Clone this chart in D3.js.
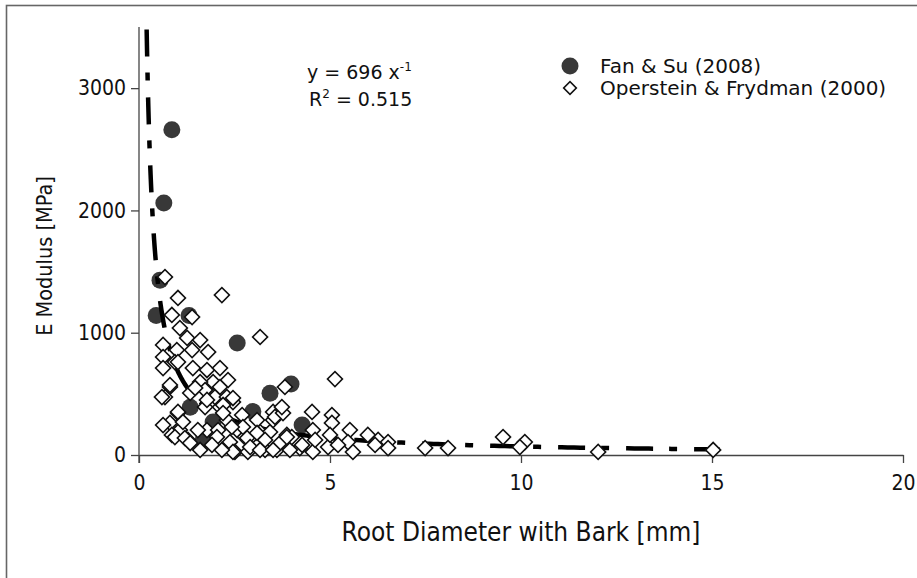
<!DOCTYPE html>
<html>
<head>
<meta charset="utf-8">
<script src="https://cdn.jsdelivr.net/npm/d3@7"></script>
<style>
  body { margin: 0; background: #fff; }
  svg { display: block; }
  .tick-label { font-family: "DejaVu Sans Condensed", "Liberation Sans Narrow", sans-serif; fill: #111; }
  .note { font-family: "DejaVu Sans", Verdana, sans-serif; fill: #111; }
</style>
</head>
<body>
<div id="chart"></div>
<script>

// Fan & Su (2008): diameter [mm], E modulus [MPa]
var fanSu = [
    [0.86, 2660], [0.65, 2060], [0.55, 1430], [0.45, 1140], [1.31, 1140],
    [2.57, 915], [3.43, 505], [3.98, 580], [2.98, 355], [4.27, 245],
    [1.94, 270], [1.68, 125], [1.34, 390]
];

// Operstein & Frydman (2000)
var operstein = [
    [0.68, 1455], [1.02, 1284], [2.17, 1308], [0.86, 1145], [1.39, 1128],
    [1.07, 1038], [3.17, 965], [0.63, 900], [1.26, 957], [1.60, 940],
    [1.81, 842], [0.63, 801], [0.99, 858], [1.39, 858], [0.63, 711],
    [0.94, 760], [1.41, 711], [1.78, 695], [2.12, 711], [2.33, 613],
    [1.94, 597], [1.60, 597], [0.81, 556], [0.68, 474], [1.34, 507],
    [1.73, 531], [1.99, 474], [2.30, 474], [2.46, 433], [2.12, 392],
    [1.73, 392], [1.02, 343], [0.81, 262], [0.63, 245], [1.07, 204],
    [0.86, 164], [1.28, 123], [1.78, 204], [2.07, 204], [2.30, 286],
    [2.57, 204], [2.38, 106], [2.77, 147], [3.17, 188], [3.43, 188],
    [3.17, 98], [2.51, 25], [2.85, 25], [3.30, 41], [3.61, 41],
    [5.13, 621], [3.82, 556], [4.53, 352], [5.05, 327], [5.05, 262],
    [5.52, 204], [5.99, 164], [6.26, 123], [6.52, 106], [6.52, 57],
    [5.60, 25], [4.95, 65], [4.55, 25], [4.21, 57], [3.95, 41],
    [3.51, 352], [3.51, 286], [3.87, 164], [4.55, 204], [5.00, 164],
    [5.47, 106], [4.00, 147], [4.27, 82], [4.61, 123], [5.21, 82],
    [6.18, 82], [7.49, 57], [8.09, 57], [9.53, 147], [10.1, 106],
    [9.97, 65], [12.02, 25], [15.03, 41],
    [2.12, 556], [2.46, 466], [2.20, 409], [2.20, 343], [2.70, 327],
    [2.72, 229], [3.09, 286], [2.43, 229], [3.56, 311], [3.77, 343],
    [3.74, 392], [2.04, 147], [2.83, 139], [3.09, 180], [3.30, 123],
    [3.69, 98], [3.87, 147], [2.46, 25], [2.91, 65], [3.17, 41], [3.51, 41],
    [1.02, 760], [0.81, 572], [0.60, 474], [1.47, 548], [1.78, 450],
    [1.02, 352], [1.15, 270], [0.94, 147], [1.20, 139], [1.34, 98],
    [1.54, 204], [1.91, 82], [1.60, 41], [2.17, 41]
];

// power trend y = a * x^b, as printed on the chart
var trendA = 696, trendB = -1, trendR2 = 0.515;
var trendRange = [0.2, 15.2];

var xTicks = [0, 5, 10, 15, 20];
var yTicks = [0, 1000, 2000, 3000];

var width = 917, height = 578;

var svg = d3.select("#chart")
    .append("svg")
    .attr("width", width)
    .attr("height", height);

// outer frame of the figure
svg.append("rect")
    .attr("x", 6.5)
    .attr("y", 5.5)
    .attr("width", width + 20)
    .attr("height", height + 20)
    .attr("fill", "none")
    .attr("stroke", "#666")
    .attr("stroke-width", 1.6);

var xScale = d3.scaleLinear().domain([0, 20]).range([139, 903]);
var yScale = d3.scaleLinear().domain([0, 3500]).range([455, 27]);

var xAxis = d3.axisBottom(xScale).tickValues(xTicks).tickFormat(d3.format("d"))
    .tickSize(8).tickSizeOuter(0).tickPadding(12);
var yAxis = d3.axisLeft(yScale).tickValues(yTicks).tickFormat(d3.format("d"))
    .tickSize(8).tickSizeOuter(0).tickPadding(5);

var gx = svg.append("g")
    .attr("transform", "translate(0," + yScale(0) + ")")
    .call(xAxis);

var gy = svg.append("g")
    .attr("transform", "translate(" + xScale(0) + ",0)")
    .call(yAxis);

[gx, gy].forEach(function (g) {
    g.select("path.domain").attr("stroke", "#444").attr("stroke-width", 1.3);
    g.selectAll(".tick line").attr("stroke", "#444").attr("stroke-width", 1.3);
    g.selectAll(".tick text")
        .attr("class", "tick-label")
        .style("font-size", "21px")
        .attr("fill", "#111");
});

// y axis line reaches the top of the plot (3500)
gy.select("path.domain").attr("d", "M0," + yScale(3500) + "V" + (yScale(0) + 8));

svg.append("text")
    .attr("class", "tick-label")
    .attr("x", (xScale(0) + xScale(20)) / 2)
    .attr("y", 541)
    .attr("text-anchor", "middle")
    .style("font-size", "26px")
    .text("Root Diameter with Bark [mm]");

svg.append("text")
    .attr("class", "tick-label")
    .attr("transform", "translate(52," + 256 + ") rotate(-90)")
    .attr("text-anchor", "middle")
    .style("font-size", "21.5px")
    .text("E Modulus [MPa]");

// Fan & Su circles
svg.append("g")
    .selectAll("circle")
    .data(fanSu)
    .enter()
    .append("circle")
    .attr("cx", function (d) { return xScale(d[0]); })
    .attr("cy", function (d) { return yScale(d[1]); })
    .attr("r", 8.5)
    .attr("fill", "#383838");

// trend line
var trendPts = d3.range(0, 301).map(function (i) {
    var x = trendRange[0] * Math.pow(trendRange[1] / trendRange[0], i / 300);
    return [x, trendA * Math.pow(x, trendB)];
});

var line = d3.line()
    .x(function (d) { return xScale(d[0]); })
    .y(function (d) { return yScale(d[1]); });

svg.append("path")
    .attr("d", line(trendPts))
    .attr("fill", "none")
    .attr("stroke", "#000")
    .attr("stroke-width", 4.5)
    .attr("stroke-dasharray", "27,16,8,17");

// Operstein & Frydman diamonds
var diamond = d3.symbol().type(d3.symbolSquare).size(112);

svg.append("g")
    .selectAll("path")
    .data(operstein)
    .enter()
    .append("path")
    .attr("d", diamond)
    .attr("transform", function (d) {
        return "translate(" + xScale(d[0]) + "," + yScale(d[1]) + ") rotate(45)";
    })
    .attr("fill", "#fff")
    .attr("stroke", "#111")
    .attr("stroke-width", 1.6);

// equation
var eq = svg.append("text")
    .attr("class", "note")
    .attr("x", 307)
    .attr("y", 79)
    .style("font-size", "19px");
eq.append("tspan").text("y = " + trendA + " x");
eq.append("tspan").attr("dy", -8).style("font-size", "12px").text(trendB);

var r2 = svg.append("text")
    .attr("class", "note")
    .attr("x", 309)
    .attr("y", 106)
    .style("font-size", "19px");
r2.append("tspan").text("R");
r2.append("tspan").attr("dy", -8).style("font-size", "12px").text("2");
r2.append("tspan").attr("dy", 8).text(" = " + trendR2);

// legend
var legend = svg.append("g");
legend.append("circle")
    .attr("cx", 570).attr("cy", 66).attr("r", 8.5)
    .attr("fill", "#383838");
legend.append("path")
    .attr("d", d3.symbol().type(d3.symbolSquare).size(80))
    .attr("transform", "translate(570,88) rotate(45)")
    .attr("fill", "#fff")
    .attr("stroke", "#111")
    .attr("stroke-width", 1.6);
legend.append("text")
    .attr("class", "note")
    .attr("x", 600).attr("y", 73)
    .style("font-size", "20px")
    .text("Fan & Su (2008)");
legend.append("text")
    .attr("class", "note")
    .attr("x", 600).attr("y", 95)
    .style("font-size", "20px")
    .text("Operstein & Frydman (2000)");

</script>
</body>
</html>
